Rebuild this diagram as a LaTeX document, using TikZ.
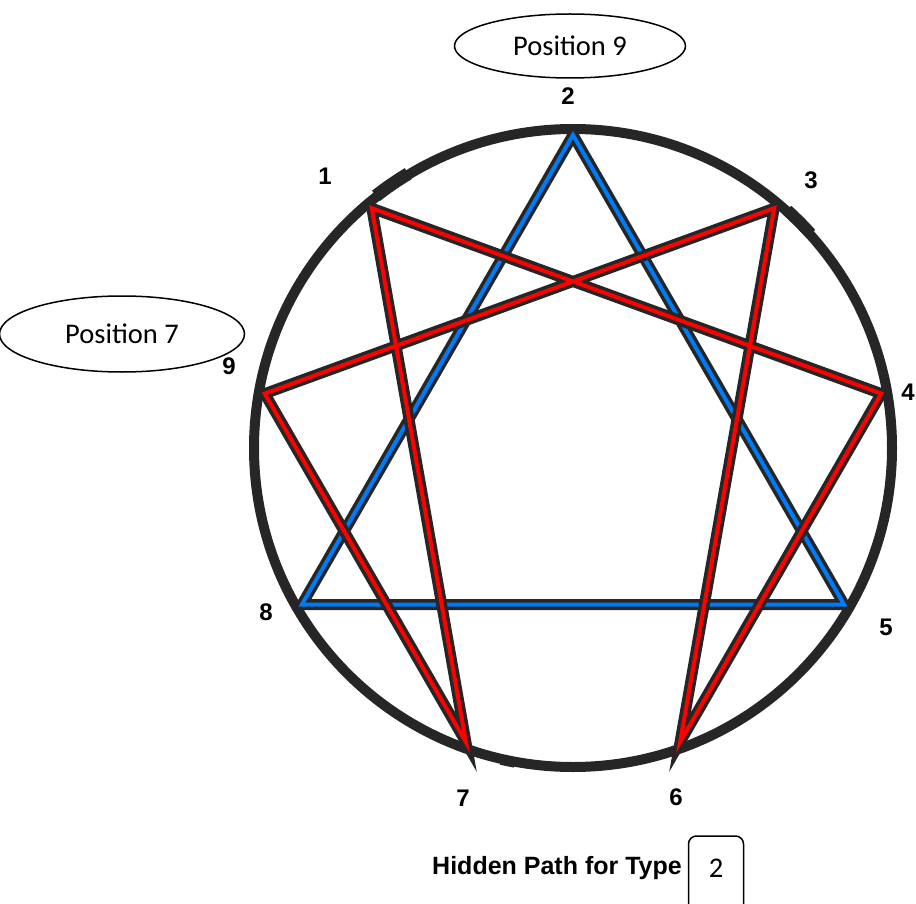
\documentclass[tikz,border=0pt]{standalone}
\usepackage{fontspec}
\setmainfont{Carlito}
\newfontfamily\arialfont{Liberation Sans}
\usetikzlibrary{shapes.geometric,calc}
\definecolor{ringgray}{RGB}{38,38,38}
\definecolor{hexred}{RGB}{255,0,0}
\definecolor{triblue}{RGB}{0,122,245}

\begin{document}
\begin{tikzpicture}[x=0.5pt, y=-0.5pt,
    ring/.style={draw=ringgray, line width=5pt},
    darkline/.style={draw=ringgray, line width=5.5pt, line join=miter},
    redline/.style={draw=hexred, line width=2pt, line join=miter, shift={(-1.5,-2)}},
    blueline/.style={draw=triblue, line width=2pt, line join=miter, shift={(1.5,1.5)}},
    num/.style={font=\arialfont\bfseries\fontsize{12}{14}\selectfont},
    oval/.style={draw, ellipse, line width=0.75pt, font=\fontsize{14.25}{17}\selectfont}]
    \useasboundingbox (0,0) rectangle (916,904);

    % ring and its nine points
    \coordinate (c) at (573,448);
    \draw[ring] (c) circle[radius=319];
    \foreach \n [count=\k from 0] in {2,3,4,5,6,7,8,9,1}
        \coordinate (p\n) at ($(c)+(40*\k-90:313)$);

    % smudges on the ring
    \draw[ring, line width=6.5pt] ($(c)+(-128:320)$) arc[start angle=-128, end angle=-121, radius=320];
    \draw[ring, line width=6pt] ($(c)+(-48:320)$) arc[start angle=-48, end angle=-42, radius=320];
    \draw[ring, line width=4pt] ($(c)+(100.5:321)$) arc[start angle=100.5, end angle=103, radius=321];

    % triangle
    \draw[darkline] (p2) -- (p8) -- (p5) -- cycle;
    \draw[blueline] (p2) -- (p8) -- (p5) -- cycle;

    % hexad
    \draw[darkline] (p1) -- (p4) -- (p6) -- (p3) -- (p9) -- (p7) -- cycle;
    \draw[redline] (p1) -- (p4) -- (p6) -- (p3) -- (p9) -- (p7) -- cycle;

    % point numbers
    \foreach \n/\x/\y in {2/568/96, 3/811/180, 4/908/392, 5/886/627, 6/676/797,
                          7/463/798, 8/266/612, 9/229/366, 1/325/176}
        \node[num] (n\n) at (\x,\y) {\n};

    % positions
    \node[oval, minimum width=115.5pt, minimum height=32pt] (pos9) at (570,46) {Position 9};
    \node[oval, minimum width=122.5pt, minimum height=38pt] (pos7) at (122,334) {Position 7};

    % caption
    \node[font=\arialfont\bfseries\fontsize{12.5}{15}\selectfont] (hidden) at (557,868) {Hidden Path for Type};
    \node[draw, rounded corners=4pt, line width=0.75pt, minimum width=27.5pt, minimum height=44pt,
        text depth=12pt, font=\fontsize{14.25}{17}\selectfont] (typebox) at (716,880) {2};
\end{tikzpicture}
\end{document}
